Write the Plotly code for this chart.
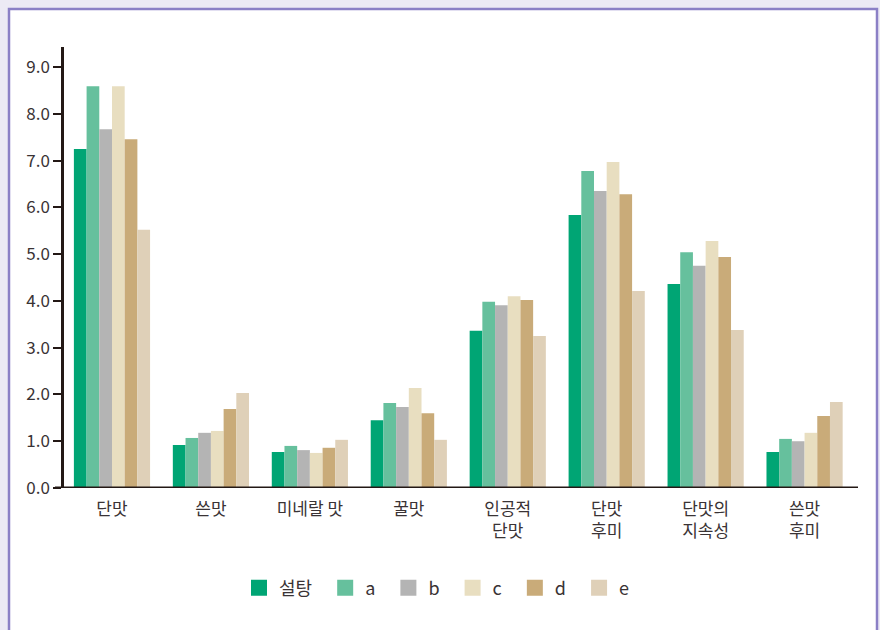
import plotly.graph_objects as go

categories = ["단맛", "쓴맛", "미네랄 맛", "꿀맛", "인공적<br>단맛", "단맛<br>후미", "단맛의<br>지속성", "쓴맛<br>후미"]
series_names = ["설탕", "a", "b", "c", "d", "e"]
sugar = [7.25, 0.92, 0.77, 1.45, 3.36, 5.84, 4.36, 0.77]
a_vals = [8.59, 1.07, 0.90, 1.82, 3.98, 6.78, 5.04, 1.05]
b_vals = [7.67, 1.18, 0.81, 1.73, 3.91, 6.35, 4.75, 1.00]
c_vals = [8.59, 1.22, 0.75, 2.14, 4.10, 6.97, 5.28, 1.18]
d_vals = [7.46, 1.69, 0.86, 1.60, 4.02, 6.28, 4.94, 1.54]
e_vals = [5.52, 2.03, 1.03, 1.03, 3.25, 4.21, 3.38, 1.84]
y_ticks = [0, 1, 2, 3, 4, 5, 6, 7, 8, 9]
y_tick_labels = ["0.0", "1.0", "2.0", "3.0", "4.0", "5.0", "6.0", "7.0", "8.0", "9.0"]

colors = ["#00A574", "#66C09D", "#B4B4B4", "#E8DEC0", "#C9AB79", "#DFD0B8"]
all_vals = [sugar, a_vals, b_vals, c_vals, d_vals, e_vals]

FONT = "Noto Sans CJK KR"
TXT = "#3A3335"
AX = "#231815"

fig = go.Figure()
for name, vals, col in zip(series_names, all_vals, colors):
    fig.add_trace(go.Bar(x=categories, y=vals, name=name, marker_color=col,
                         marker_line_width=0, showlegend=False))
for name, col in zip(series_names, colors):
    fig.add_trace(go.Scatter(x=[None], y=[None], mode="markers",
                             name=name + "\u00a0\u00a0",
                             marker=dict(symbol="square", size=16, color=col)))

L, R, T, B = 64, 22, 47, 142
W, H = 880, 630
pw, ph = W - L - R, H - T - B

def px_x(px):
    return (px - L) / pw

def px_y(py):
    return (H - B - py) / ph

shapes = [
    dict(type="rect", xref="paper", yref="paper", layer="below",
         x0=px_x(9), x1=px_x(877), y0=px_y(9), y1=px_y(650),
         fillcolor="white", line=dict(color="#8B80C6", width=2.5)),
    dict(type="line", xref="paper", yref="y", layer="above",
         x0=px_x(55), x1=1, y0=0, y1=0, line=dict(color=AX, width=3)),
]

fig.update_layout(
    width=W, height=H,
    margin=dict(l=L, r=R, t=T, b=B),
    paper_bgcolor="#ECEAF5",
    plot_bgcolor="rgba(0,0,0,0)",
    barmode="group", bargap=0.23, bargroupgap=0,
    font=dict(family=FONT, color=TXT, size=16),
    shapes=shapes,
    xaxis=dict(range=[-0.485, 7.54], showline=False, ticks="", showgrid=False,
               zeroline=False, tickfont=dict(size=17, color=TXT),
               ticklabelstandoff=9),
    yaxis=dict(range=[0, 9.43], tickvals=y_ticks, ticktext=y_tick_labels,
               showline=True, linecolor=AX, linewidth=2.5, ticks="outside",
               ticklen=8, tickwidth=1.5, tickcolor=AX, showgrid=False,
               zeroline=False, tickfont=dict(size=17, color=TXT)),
    legend=dict(orientation="h", x=0.5 - 20 / pw, xanchor="center", y=px_y(588),
                yanchor="middle", font=dict(size=18, color=TXT),
                bgcolor="rgba(0,0,0,0)", itemwidth=30),
)

fig.write_html("out.html")
